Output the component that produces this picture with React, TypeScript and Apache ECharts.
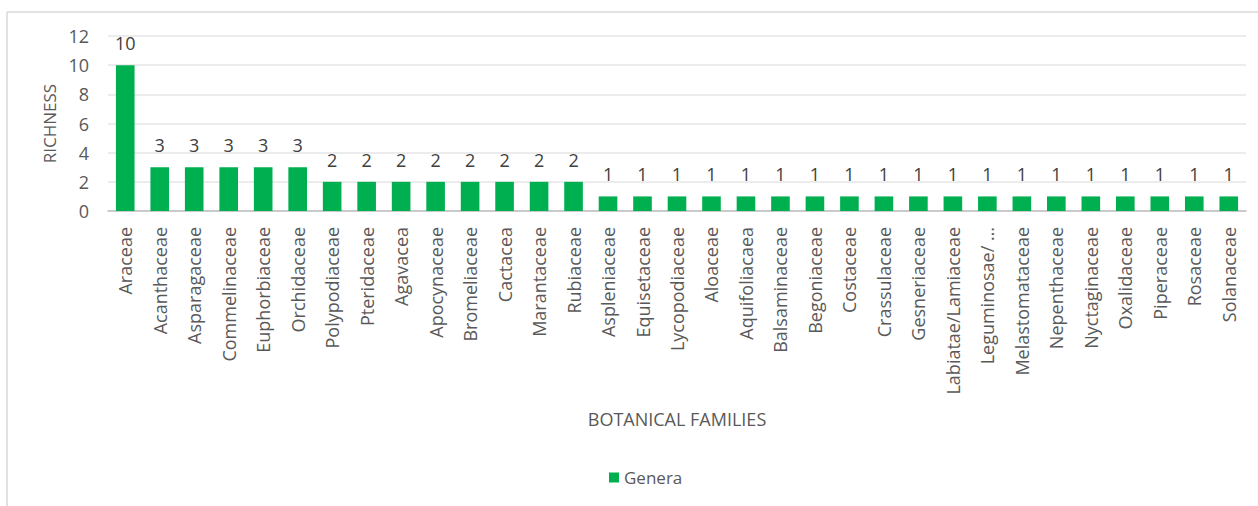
import React, { useEffect, useRef } from "react";
import * as echarts from "echarts";

const families = [
  "Araceae", "Acanthaceae", "Asparagaceae", "Commelinaceae", "Euphorbiaceae", "Orchidaceae",
  "Polypodiaceae", "Pteridaceae", "Agavacea", "Apocynaceae", "Bromeliaceae", "Cactacea",
  "Marantaceae", "Rubiaceae", "Aspleniaceae", "Equisetaceae", "Lycopodiaceae", "Aloaceae",
  "Aquifoliacaea", "Balsaminaceae", "Begoniaceae", "Costaceae", "Crassulaceae", "Gesneriaceae",
  "Labiatae/Lamiaceae", "Leguminosae/ …", "Melastomataceae", "Nepenthaceae", "Nyctaginaceae",
  "Oxalidaceae", "Piperaceae", "Rosaceae", "Solanaceae",
];
const genera = [
  10, 3, 3, 3, 3, 3,
  2, 2, 2, 2, 2, 2,
  2, 2, 1, 1, 1, 1,
  1, 1, 1, 1, 1, 1,
  1, 1, 1, 1, 1,
  1, 1, 1, 1,
];
const seriesName = "Genera";
const xTitle = "BOTANICAL FAMILIES";
const yTitle = "RICHNESS";

const FONT = "'Open Sans', 'Noto Sans', sans-serif";

export default function App() {
  const ref = useRef<HTMLDivElement>(null);
  useEffect(() => {
    if (!ref.current) return;
    const chart = echarts.init(ref.current, null, { renderer: "svg" });
    chart.setOption({
      animation: false,
      backgroundColor: "#ffffff",
      textStyle: { fontFamily: FONT },
      graphic: [
        { type: "line", shape: { x1: 7, y1: 12, x2: 1258, y2: 12 }, style: { stroke: "#d9d9d9", lineWidth: 1.5 } },
        { type: "line", shape: { x1: 7, y1: 12, x2: 7, y2: 506 }, style: { stroke: "#d9d9d9", lineWidth: 1.5 } },
      ],
      grid: { left: 108, right: 12, top: 36, bottom: 295, containLabel: false },
      legend: {
        data: [seriesName],
        left: 604,
        top: 464,
        icon: "rect",
        itemWidth: 10,
        itemHeight: 10,
        itemGap: 5,
        textStyle: { color: "#595959", fontSize: 17, fontFamily: FONT },
      },
      xAxis: {
        type: "category",
        data: families,
        name: xTitle,
        nameLocation: "middle",
        nameGap: 199,
        nameTextStyle: { color: "#595959", fontSize: 18, fontFamily: FONT },
        axisLine: { lineStyle: { color: "#bfbfbf", width: 1.5 } },
        axisTick: { show: false },
        axisLabel: {
          interval: 0,
          rotate: 90,
          margin: 16,
          color: "#595959",
          fontSize: 18,
          fontFamily: FONT,
        },
      },
      yAxis: {
        type: "value",
        min: 0,
        max: 12,
        interval: 2,
        name: yTitle,
        nameLocation: "middle",
        nameGap: 50,
        nameTextStyle: { color: "#595959", fontSize: 17, fontFamily: FONT },
        axisLine: { show: false },
        axisTick: { show: false },
        axisLabel: { color: "#595959", fontSize: 18, margin: 19, fontFamily: FONT },
        splitLine: { lineStyle: { color: "#e6e6e6", width: 1.5 } },
      },
      series: [
        {
          name: seriesName,
          type: "bar",
          data: genera,
          barWidth: "54%",
          itemStyle: { color: "#00b050" },
          label: {
            show: true,
            position: "top",
            distance: 13,
            color: "#404040",
            fontSize: 18,
            fontFamily: FONT,
          },
        },
      ],
    });
    return () => chart.dispose();
  }, []);
  return (
    <div
      ref={ref}
      style={{ position: "absolute", left: 0, top: 0, width: 1258, height: 506 }}
    />
  );
}
